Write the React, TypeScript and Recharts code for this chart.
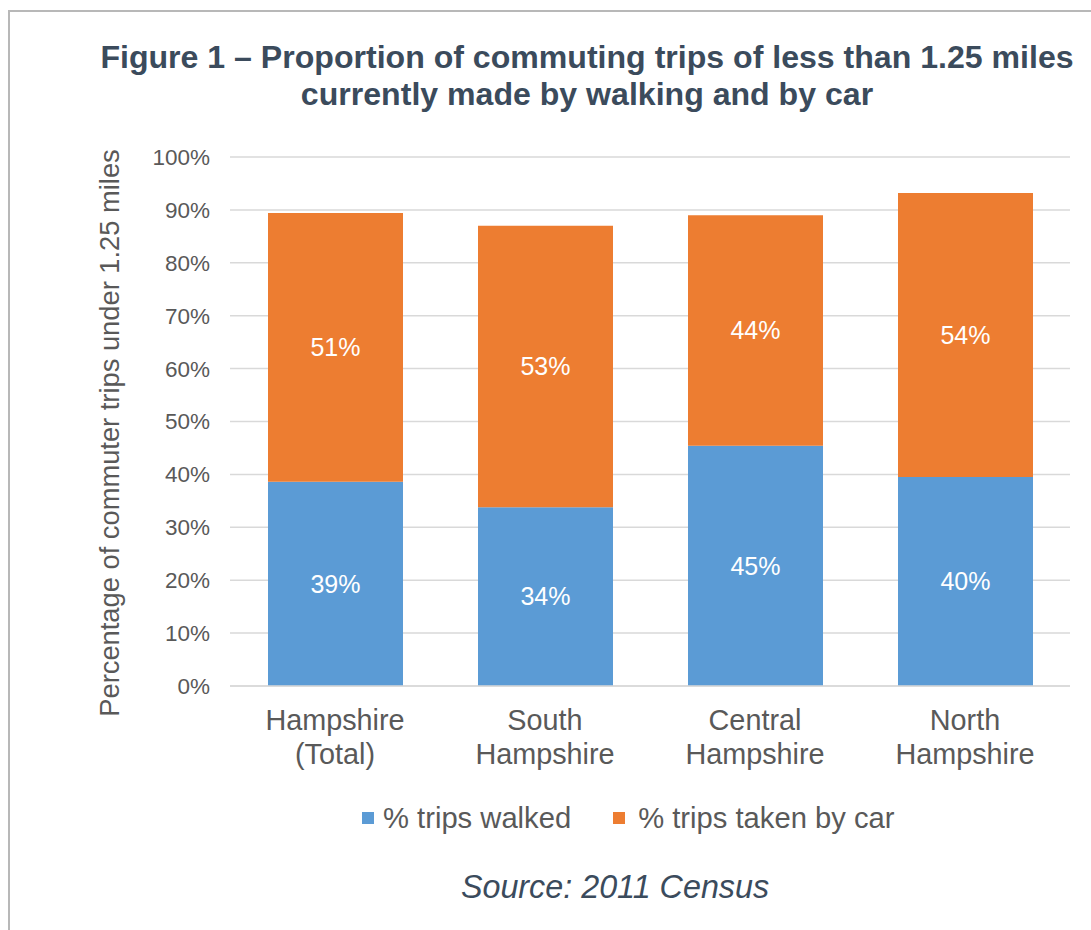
import React from 'react';
import { BarChart, Bar, XAxis, YAxis, CartesianGrid, LabelList } from 'recharts';

const categories = ['Hampshire\n(Total)', 'South\nHampshire', 'Central\nHampshire', 'North\nHampshire'];
const walked = [38.6, 33.8, 45.4, 39.5];
const byCar = [50.8, 53.2, 43.6, 53.7];
const yTicks = [0, 10, 20, 30, 40, 50, 60, 70, 80, 90, 100];

const BLUE = '#5b9bd5';
const ORANGE = '#ed7d31';
const FONT = "Arial, 'Liberation Sans', sans-serif";
const TEXT = '#595959';
const TITLE = '#3b4b5c';

const data = categories.map((name, i) => ({ name, walked: walked[i], car: byCar[i] }));

// two line category labels
const CategoryTick = ({ x, y, payload }: any) => {
  const lines = String(payload.value).split('\n');
  return (
    <text x={x} y={y} textAnchor="middle" fill={TEXT} fontSize={28.8} fontFamily={FONT}>
      {lines.map((l, i) => (
        <tspan key={i} x={x} dy={i === 0 ? 44 : 34}>{l}</tspan>
      ))}
    </text>
  );
};

const pct = (v: any) => `${Math.round(Number(v))}%`;

export default function App() {
  return (
    <div style={{ position: 'relative', width: 1091, height: 930, overflow: 'hidden', background: '#fff', fontFamily: FONT }}>
      <style>{'body{margin:0;overflow:hidden}'}</style>
      <div style={{ position: 'absolute', left: 8, top: 10, width: 1200, height: 1000, border: '2px solid #b8b8b8' }} />

      <div style={{ position: 'absolute', left: 60, top: 39, width: 1054, textAlign: 'center', color: TITLE, fontSize: 32.1, fontWeight: 'bold', lineHeight: '37px' }}>
        Figure 1 – Proportion of commuting trips of less than 1.25 miles<br />
        currently made by walking and by car
      </div>

      <div style={{ position: 'absolute', left: 110, top: 433, transform: 'translate(-50%, -50%) rotate(-90deg)', whiteSpace: 'nowrap', fontSize: 27.3, color: TEXT }}>
        Percentage of commuter trips under 1.25 miles
      </div>

      <div style={{ position: 'absolute', left: 0, top: 0 }}>
        <BarChart width={1091} height={930} data={data} margin={{ top: 157, right: 21, bottom: 144, left: 0 }} barSize={135}>
          <CartesianGrid vertical={false} stroke="#d9d9d9" strokeWidth={1.5} />
          <XAxis dataKey="name" height={100} tick={<CategoryTick />} tickLine={false} tickSize={0} tickMargin={0} axisLine={{ stroke: '#d9d9d9', strokeWidth: 1.5 }} interval={0} />
          <YAxis width={230} domain={[0, 100]} ticks={yTicks} tickFormatter={(v) => `${v}%`} axisLine={false} tickLine={false} tickSize={0} tickMargin={20}
            tick={{ fill: TEXT, fontSize: 22.5, fontFamily: FONT }} />
          <Bar dataKey="walked" stackId="a" fill={BLUE} isAnimationActive={false}>
            <LabelList dataKey="walked" position="center" formatter={pct} fill="#fff" fontSize={25} fontFamily={FONT} />
          </Bar>
          <Bar dataKey="car" stackId="a" fill={ORANGE} isAnimationActive={false}>
            <LabelList dataKey="car" position="center" formatter={pct} fill="#fff" fontSize={25} fontFamily={FONT} />
          </Bar>
        </BarChart>
      </div>

      <div style={{ position: 'absolute', left: 362, top: 800, height: 36, display: 'flex', alignItems: 'center', fontSize: 29.2, color: TEXT, whiteSpace: 'nowrap' }}>
        <span style={{ width: 12, height: 12, background: BLUE, display: 'inline-block', marginRight: 9 }} />
        <span>% trips walked</span>
        <span style={{ width: 12, height: 12, background: ORANGE, display: 'inline-block', marginLeft: 42, marginRight: 13 }} />
        <span>% trips taken by car</span>
      </div>

      <div style={{ position: 'absolute', left: 315, width: 600, top: 868, textAlign: 'center', fontSize: 32.3, fontStyle: 'italic', color: TITLE, lineHeight: '38px' }}>
        Source: 2011 Census
      </div>
    </div>
  );
}
